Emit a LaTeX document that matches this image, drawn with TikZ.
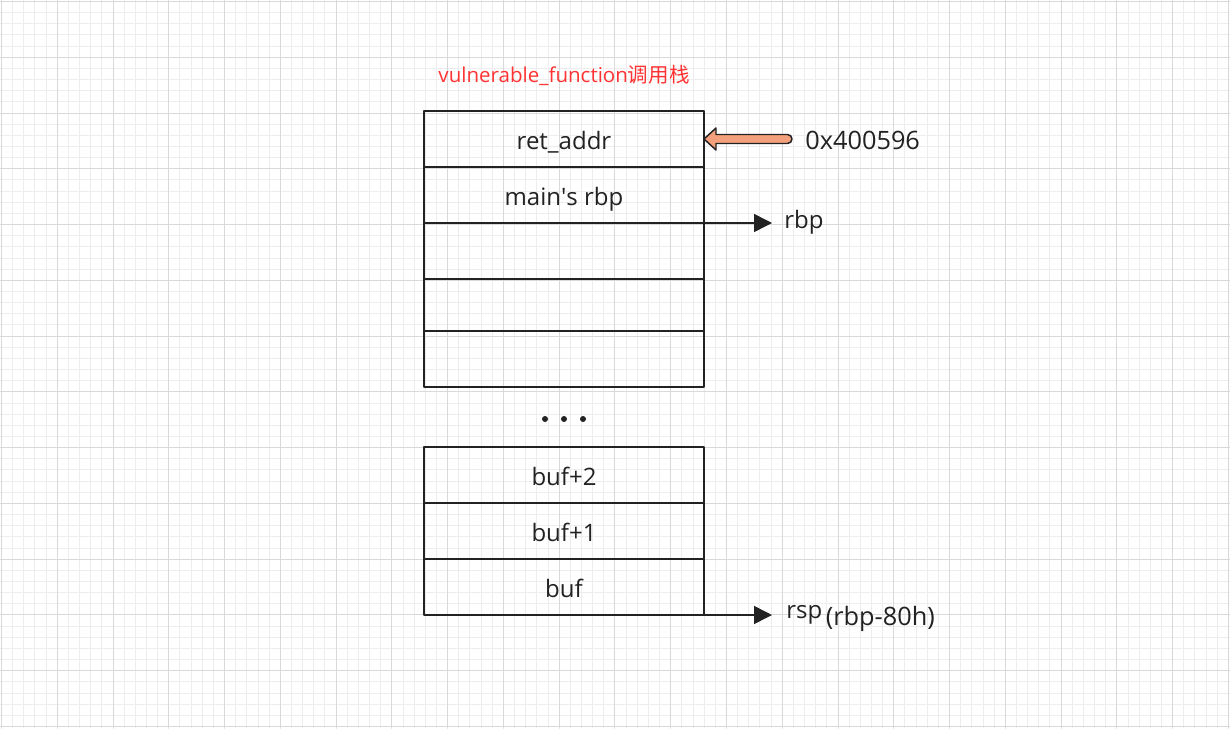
\documentclass[tikz,border=0pt]{standalone}
\usepackage{fontspec}
\setmainfont{Open Sans}
\newfontfamily\cjk{Noto Sans CJK SC}
\usetikzlibrary{positioning,arrows.meta,calc}
\definecolor{gridminor}{HTML}{EDEDED}
\definecolor{gridmajor}{HTML}{D9D9D9}
\definecolor{titlered}{HTML}{FF3333}
\definecolor{hookorange}{HTML}{F4A07C}
\definecolor{ink}{HTML}{222222}
\begin{document}
\begin{tikzpicture}[x=0.75pt, y=-0.75pt, line join=round, line cap=round,
	cell/.style={draw=ink, line width=1.4pt, minimum width=210pt, minimum height=42pt, inner sep=0pt, outer sep=0pt, text=ink, font=\fontsize{18}{20}\selectfont, text height=18pt, text depth=3pt},
	ptr/.style={draw=ink, line width=1.1pt, line cap=butt, -{Triangle[length=13.5pt,width=13.5pt]}},
	lbl/.style={inner sep=0pt, text=ink, font=\fontsize{18}{20}\selectfont}]
	\def \gap{11.154};
	\def \W{1230};
	\def \H{728};
	\fill[white] (0,0) rectangle (\W,\H);
	\useasboundingbox (0,0) rectangle (\W,\H);
	\foreach \i in {0,...,110} \draw[gridminor, line width=0.75pt] ({1.5+\i*\gap},0) -- ({1.5+\i*\gap},\H);
	\foreach \i in {0,...,65} \draw[gridminor, line width=0.75pt] (0,{1.5+\i*\gap}) -- (\W,{1.5+\i*\gap});
	\foreach \i in {0,...,22} \draw[gridmajor, line width=0.75pt] ({1.5+5*\i*\gap},0) -- ({1.5+5*\i*\gap},\H);
	\foreach \i in {0,...,13} \draw[gridmajor, line width=0.75pt] (0,{1.5+5*\i*\gap}) -- (\W,{1.5+5*\i*\gap});
	\node[cell] (ret) at (564,139) {ret\_addr};
	\node[cell, below=0pt of ret] (mrbp) {main\textquotesingle s rbp};
	\node[cell, below=0pt of mrbp] (slotA) {};
	\node[cell, below=0pt of slotA, minimum height=39pt] (slotB) {};
	\node[cell, below=0pt of slotB] (slotC) {};
	\node[anchor=base, text=titlered, font=\fontsize{15.4}{18}\selectfont] (title) at ([yshift=21.75pt]ret.north) {vulnerable\_function{\cjk 调用栈}};
	\coordinate (dots) at (564,419);
	\foreach \dx in {-19,0,19} \fill[ink] ($(dots)+(\dx,0)$) circle (3);
	\node[cell] (buftwo) at (564,475) {buf+2};
	\node[cell, below=0pt of buftwo] (bufone) {buf+1};
	\node[cell, below=0pt of bufone] (buf) {buf};
	\draw[draw=ink, line width=1.1pt, fill=hookorange] (ret.east) -- ++(12,-11) -- ++(0,6.5) -- ++(71.5,0) arc[start angle=-90, end angle=90, radius=4.5] -- ++(-71.5,0) -- ++(0,6.5) -- cycle;
	\node[lbl, anchor=base west, font=\fontsize{19}{21}\selectfont] (addr) at ([xshift=75.75pt,yshift=-7.5pt]ret.east) {0x400596};
	\coordinate (rbptip) at ([xshift=51pt]mrbp.south east);
	\draw[ptr] (mrbp.south east) -- (rbptip);
	\node[lbl, anchor=base west] (rbplab) at ([xshift=9pt,yshift=-3.75pt]rbptip) {rbp};
	\coordinate (rsptip) at ([xshift=51pt]buf.south east);
	\draw[ptr] (buf.south east) -- (rsptip);
	\node[lbl, anchor=base west] (rsplab) at ([xshift=10.5pt,yshift=-2.25pt]rsptip) {rsp};
	\node[lbl, anchor=base west, font=\fontsize{19}{21}\selectfont] (rspoff) at ([xshift=2.25pt,yshift=-5.25pt]rsplab.base east) {(rbp-80h)};
\end{tikzpicture}
\end{document}
